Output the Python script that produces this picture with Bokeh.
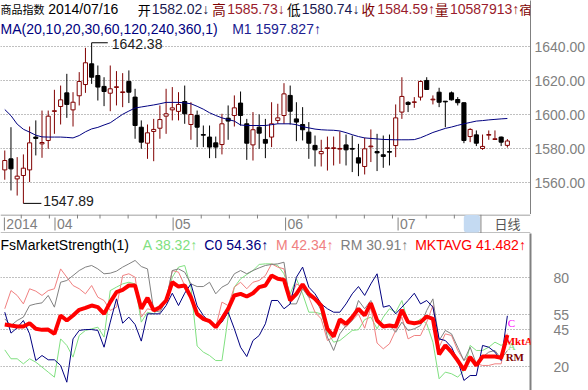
import numpy as np
from bokeh.plotting import figure
from bokeh.layouts import column
from bokeh.models import (ColumnDataSource, LinearAxis, FixedTicker, Grid, Label, Span,
                          BoxAnnotation, NumeralTickFormatter, Range1d)
from bokeh.core.properties import value
from bokeh.embed import file_html
from bokeh.resources import INLINE

# ---------------- data ----------------
open_ = [1567.6, 1574.1, 1562.3, 1564.3, 1567.6, 1586.9, 1582.9, 1584.9, 1602.0, 1604.9,
         1612.9, 1602.9, 1611.2, 1617.8, 1630.0, 1623.1, 1616.7, 1612.7, 1616.1, 1613.1,
         1619.6, 1610.4, 1592.7, 1583.3, 1590.2, 1592.1, 1599.2, 1602.9, 1602.0, 1607.8,
         1594.3, 1599.6, 1588.4, 1586.9, 1583.5, 1582.5, 1598.0, 1599.6, 1606.9, 1594.7,
         1582.3, 1592.7, 1585.5, 1586.9, 1596.7, 1599.6, 1611.4, 1597.6, 1594.3, 1589.8,
         1582.0, 1577.1, 1580.2, 1580.2, 1579.8, 1582.3, 1580.2, 1574.7, 1569.6, 1581.2,
         1578.4, 1576.5, 1578.4, 1581.9, 1601.6, 1607.3, 1607.3, 1610.4, 1620.2, 1608.8,
         1613.3, 1608.0, 1612.9, 1609.0, 1607.1, 1587.2, 1588.2, 1580.2, 1588.0, 1585.5,
         1586.9, 1582.02]
high = [1579.0, 1592.7, 1575.1, 1576.7, 1593.1, 1596.7, 1602.5, 1602.5, 1614.7, 1617.2,
        1624.1, 1613.3, 1625.1, 1639.4, 1642.38, 1629.0, 1622.1, 1629.0, 1625.7, 1624.5,
        1626.1, 1615.3, 1596.7, 1594.3, 1597.6, 1605.5, 1615.3, 1616.3, 1613.3, 1617.2,
        1607.4, 1602.5, 1593.7, 1593.7, 1587.2, 1600.6, 1605.5, 1611.4, 1613.7, 1597.6,
        1601.6, 1600.2, 1597.6, 1607.4, 1606.5, 1618.6, 1617.2, 1607.4, 1604.5, 1595.7,
        1587.8, 1585.3, 1587.2, 1587.2, 1590.2, 1588.4, 1587.8, 1582.9, 1586.5, 1591.4,
        1588.8, 1587.8, 1588.4, 1606.1, 1622.1, 1608.0, 1610.4, 1620.2, 1622.1, 1611.4,
        1615.9, 1608.0, 1613.7, 1610.4, 1607.4, 1592.1, 1590.8, 1588.4, 1590.8, 1590.8,
        1587.2, 1585.73]
low = [1561.8, 1555.5, 1552.5, 1547.89, 1560.4, 1576.1, 1574.7, 1580.0, 1588.8, 1594.3,
       1598.2, 1593.1, 1605.5, 1612.9, 1618.2, 1608.4, 1605.1, 1602.1, 1605.5, 1604.5,
       1606.9, 1585.9, 1580.0, 1574.1, 1572.7, 1585.9, 1588.8, 1596.7, 1596.7, 1594.7,
       1585.3, 1581.0, 1581.0, 1574.5, 1574.5, 1576.7, 1585.3, 1593.1, 1593.7, 1573.5,
       1573.1, 1580.0, 1574.5, 1581.0, 1594.7, 1594.7, 1594.3, 1584.5, 1584.9, 1574.1,
       1569.6, 1569.6, 1567.2, 1570.2, 1571.2, 1570.2, 1566.3, 1563.9, 1564.9, 1572.2,
       1566.9, 1568.8, 1570.2, 1575.1, 1597.6, 1601.6, 1604.1, 1608.4, 1614.9, 1606.1,
       1604.5, 1592.7, 1608.4, 1605.5, 1583.3, 1583.9, 1581.6, 1579.4, 1585.3, 1585.3,
       1581.6, 1580.74]
close = [1573.1, 1568.2, 1563.9, 1568.6, 1583.5, 1586.1, 1583.7, 1599.2, 1602.4, 1608.8,
         1606.1, 1607.4, 1619.6, 1630.6, 1622.1, 1616.3, 1613.7, 1615.3, 1616.5, 1613.5,
         1613.3, 1593.7, 1583.9, 1589.4, 1591.4, 1597.2, 1600.6, 1604.1, 1606.1, 1600.6,
         1600.2, 1592.7, 1588.0, 1581.0, 1581.0, 1594.7, 1596.3, 1604.1, 1599.6, 1583.3,
         1591.2, 1589.2, 1583.3, 1594.7, 1598.2, 1612.3, 1602.1, 1595.7, 1591.2, 1583.3,
         1579.4, 1578.4, 1580.6, 1580.6, 1580.2, 1579.4, 1579.8, 1571.6, 1580.0, 1581.6,
         1577.6, 1575.5, 1578.0, 1598.2, 1610.8, 1606.1, 1607.6, 1619.6, 1614.9, 1609.2,
         1607.4, 1607.6, 1608.8, 1607.1, 1584.9, 1591.4, 1583.3, 1581.4, 1588.4, 1585.9,
         1583.9, 1584.59]
ma_m1 = [1603.1, 1599.5, 1594.5, 1591.5, 1589.8, 1588.0, 1587.0, 1586.9, 1586.9, 1586.9,
         1586.7, 1586.4, 1587.8, 1590.0, 1591.7, 1592.6, 1594.0, 1595.3, 1597.8, 1600.3,
         1602.2, 1604.0, 1604.6, 1605.2, 1605.8, 1606.5, 1607.3, 1607.3, 1607.3, 1607.0,
         1606.5, 1605.0, 1603.3, 1601.2, 1599.6, 1598.2, 1597.2, 1596.3, 1594.0, 1593.7,
         1593.7, 1593.7, 1593.7, 1594.2, 1594.7, 1594.7, 1594.7, 1594.2, 1593.0, 1592.3,
         1591.6, 1591.2, 1591.0, 1590.9, 1590.5, 1589.5, 1588.3, 1587.2, 1586.4, 1586.1,
         1585.8, 1585.5, 1585.4, 1585.3, 1585.3, 1585.3, 1585.4, 1586.5, 1588.0, 1589.6,
         1590.8, 1592.0, 1592.8, 1593.8, 1594.7, 1595.5, 1596.3, 1596.6, 1597.0, 1597.3,
         1597.6, 1597.827]
volume_last = 10587913

ms_a = [31.4, 25.4, 25.4, 22.0, 25.4, 23.1, 19.8, 16.4, 13.0, 38.8, 34.4, 26.5, 41.1, 44.5,
        45.6, 46.7, 40.0, 71.4, 73.7, 75.9, 77.0, 75.9, 50.1, 56.8, 55.7, 60.2, 64.7, 80.4,
        87.2, 88.3, 73.7, 34.0, 29.9, 27.6, 24.2, 24.2, 53.5, 73.7, 79.3, 82.2, 84.9, 89.0,
        89.4, 89.4, 88.3, 82.7, 69.2, 79.3, 69.2, 56.8, 56.8, 55.7, 43.3, 36.6, 37.7, 41.1,
        44.5, 45.0, 51.8, 53.5, 45.6, 53.5, 59.1, 56.8, 64.7, 50.1, 49.0, 52.3, 49.0, 36.6,
        11.9, 16.4, 15.3, 13.0, 17.5, 34.4, 31.0, 31.0, 33.2, 36.6, 34.4, 38.32]
ms_c0 = [56.8, 42.7, 46.3, 51.2, 42.2, 24.2, 27.6, 24.7, 24.7, 20.9, 9.6, 38.8, 44.5, 45.1,
         45.1, 44.5, 33.2, 50.1, 65.8, 49.4, 53.5, 48.5, 37.3, 55.7, 55.7, 55.7, 61.3, 69.6,
         61.3, 69.6, 75.9, 61.0, 54.6, 50.1, 47.2, 50.1, 56.8, 45.6, 33.2, 26.9, 37.7, 41.1,
         49.0, 64.7, 64.7, 59.1, 62.4, 80.4, 87.2, 73.7, 69.2, 62.4, 59.1, 56.8, 56.8, 62.4,
         69.2, 74.1, 68.1, 75.9, 82.7, 60.2, 61.3, 55.7, 60.2, 64.7, 69.6, 62.4, 64.7, 60.2,
         38.8, 37.7, 33.2, 24.2, 10.8, 14.1, 14.1, 34.4, 33.2, 29.9, 24.2, 54.36]
ms_m = [59.1, 71.4, 68.1, 62.4, 72.6, 71.0, 68.1, 71.4, 72.6, 86.0, 80.4, 74.8, 72.6, 69.2,
        74.8, 66.9, 64.7, 58.0, 60.2, 81.5, 82.7, 80.4, 53.5, 59.1, 58.0, 58.0, 64.7, 84.9,
        83.8, 74.8, 68.1, 54.6, 51.2, 50.1, 46.7, 63.6, 61.3, 73.7, 77.0, 72.6, 77.0, 78.2,
        81.5, 89.4, 87.2, 86.0, 65.8, 75.9, 73.7, 66.9, 56.8, 52.3, 37.7, 40.0, 50.1, 46.7,
        51.2, 55.7, 46.0, 60.0, 36.0, 32.1, 35.5, 44.5, 53.5, 38.8, 41.1, 41.1, 50.1, 61.3,
        33.2, 42.2, 41.1, 31.0, 24.2, 27.6, 22.0, 20.9, 20.9, 22.0, 22.0, 42.34]
ms_rm = [52.3, 47.8, 51.2, 53.5, 61.3, 62.4, 63.1, 68.1, 60.2, 77.0, 78.2, 81.5, 84.9, 87.2,
         88.3, 86.0, 82.7, 83.1, 84.5, 87.2, 89.4, 91.7, 87.6, 86.0, 58.0, 56.8, 64.7, 84.9,
         86.0, 83.8, 75.9, 74.1, 74.1, 77.0, 69.2, 73.7, 75.9, 82.7, 84.9, 82.7, 84.9, 86.7,
         88.3, 89.0, 89.4, 90.5, 62.4, 62.4, 72.6, 66.9, 65.8, 58.0, 40.0, 31.0, 42.2, 47.8,
         51.2, 64.7, 59.1, 64.7, 50.1, 47.8, 47.8, 43.3, 50.1, 44.5, 45.6, 47.8, 58.0, 65.8,
         37.7, 44.5, 42.2, 33.2, 24.2, 33.2, 22.0, 26.5, 29.9, 31.0, 25.4, 30.91]
ms_avg = [48.5, 47.8, 47.2, 47.2, 49.4, 45.6, 44.9, 45.1, 42.2, 54.6, 51.2, 54.6, 58.4, 59.7,
          61.3, 60.2, 55.7, 63.6, 70.3, 71.9, 74.8, 74.8, 59.1, 66.5, 58.0, 60.2, 64.7, 77.0,
          74.1, 74.8, 67.0, 55.7, 52.3, 50.8, 46.7, 52.3, 59.1, 68.1, 69.2, 67.4, 69.6, 73.7,
          74.8, 81.5, 79.3, 78.6, 64.7, 69.2, 75.5, 69.2, 65.8, 61.3, 45.6, 40.4, 51.9, 49.0,
          53.5, 59.1, 54.6, 62.9, 51.2, 47.2, 47.8, 47.2, 58.4, 50.1, 49.4, 50.1, 53.9, 52.3,
          28.3, 34.4, 29.9, 24.2, 17.9, 26.5, 20.9, 26.9, 26.9, 26.9, 26.0, 41.482]

price_ticks = [1560, 1580, 1600, 1620, 1640]
bottom_tick = 1540
ind_ticks = [20, 45, 55, 80]
week_ticks = [3, 8, 13, 17, 22, 27, 35, 40, 45, 54, 59, 64, 69, 75, 80]
month_ticks = [0, 9, 30, 50, 70]
month_labels = ["2014", "04", "05", "06", "07"]

# ---------------- layout helpers (reference pixel -> data units) ----------------
W, HA, HB, HC = 588, 214, 19, 157
RB = 55
def fx(rx): return (rx - 4.3) / 6.24
def fyA(ry): return 1580 + (148.3 - ry) / 1.7
def fyB(ry): return 233 - ry
def fyC(ry): return 80 - (ry - 277.3) / 1.483

XL, XR = fx(0), fx(W - RB)
SANS = "Liberation Sans"
CJK = "Noto Sans CJK SC"
GREY = "#808080"
UP = "#800000"
NAVY = "#000080"
NUMRED = "#9A1C2C"

def base(height, xr, yr, right=RB):
    p = figure(width=W, height=height, x_range=Range1d(*xr), y_range=Range1d(*yr),
               x_axis_type=None, y_axis_type=None, toolbar_location=None,
               output_backend="svg", min_border_left=0, min_border_right=right,
               min_border_top=0, min_border_bottom=0)
    p.outline_line_color = None
    p.background_fill_color = "white"
    p.border_fill_color = "white"
    return p

def lab(p, rx, y, text, color, size="14px", font=SANS, baseline="middle", **kw):
    p.add_layout(Label(x=fx(rx), y=y, text=text, text_color=color, text_font_size=size,
                       text_font=font, text_baseline=baseline, text_align="left", **kw))

# ---------------- price panel ----------------
pA = base(HA, (XL, XR), (fyA(HA), fyA(0)))
axA = LinearAxis(ticker=FixedTicker(ticks=price_ticks), formatter=NumeralTickFormatter(format="0.00"),
                 major_tick_out=0, major_tick_in=0, minor_tick_out=0, minor_tick_in=0,
                 major_tick_line_color=None, minor_tick_line_color=None,
                 axis_line_color=GREY, major_label_text_color=GREY,
                 major_label_text_font=SANS, major_label_text_font_size="14px",
                 major_label_standoff=4)
pA.add_layout(axA, "right")
pA.add_layout(Grid(dimension=1, ticker=axA.ticker, grid_line_color=GREY, grid_line_dash="1 2"))
# lowest price level label, kept fully inside the panel just above its bottom edge
lab(pA, 535, fyA(204), f"{bottom_tick:.2f}", GREY)

o, h, l, c = map(np.array, (open_, high, low, close))
idx = np.arange(len(c))
up = c >= o
def csrc(mask):
    return ColumnDataSource(dict(x=idx[mask], top=np.maximum(o, c)[mask],
                                 bottom=np.minimum(o, c)[mask], h=h[mask], l=l[mask]))
su, sd = csrc(up), csrc(~up)
pA.segment("x", "h", "x", "l", source=su, line_color=UP, line_width=1)
pA.segment("x", "h", "x", "l", source=sd, line_color="black", line_width=1)
pA.vbar(x="x", width=0.66, top="top", bottom="bottom", source=su, fill_color="white", line_color=UP)
pA.vbar(x="x", width=0.66, top="top", bottom="bottom", source=sd, fill_color="black", line_color="black")
pA.line(idx, ma_m1, line_color=NAVY, line_width=1)

ih, il = int(np.argmax(h)), int(np.argmin(l))
pA.segment(x0=[ih], y0=[h[ih]], x1=[ih + 2.6], y1=[h[ih]], line_color="black")
pA.text(x=[ih + 3.25], y=[h[ih] - 0.9], text=[f"{h[ih]:.2f}"], text_baseline="middle",
        text_font=value(SANS), text_font_size="14px", text_color="#202020")
pA.segment(x0=[il], y0=[l[il]], x1=[il + 2.9], y1=[l[il]], line_color="black")
pA.text(x=[il + 3.2], y=[l[il] + 1.4], text=[f"{l[il]:.2f}"], text_baseline="alphabetic",
        text_font=value(SANS), text_font_size="14px", text_color="#202020")

r1, r2 = fyA(8.5), fyA(28.5)
lab(pA, 0, r1, "商品指数", "black", size="11px", font=CJK)
lab(pA, 48, r1, "2014/07/16", "black")
lab(pA, 138, r1, "开", "black", size="13px", font=CJK)
lab(pA, 152, r1, f"{o[-1]:.2f}↓", "#1A1A50")
lab(pA, 213, r1, "高", UP, size="13.5px", font=CJK)
lab(pA, 228, r1, f"{h[-1]:.2f}↓", NUMRED)
lab(pA, 288, r1, "低", "black", size="13.5px", font=CJK)
lab(pA, 303, r1, f"{l[-1]:.2f}↓", "#1A1A50")
lab(pA, 363, r1, "收", UP, size="13.5px", font=CJK)
lab(pA, 379, r1, f"{c[-1]:.2f}↑", NUMRED)
lab(pA, 437, r1, "量", UP, size="13.5px", font=CJK)
lab(pA, 452, r1, f"{volume_last}↑", NUMRED)
lab(pA, 522, r1, "宿", UP, size="12px", font=CJK)
lab(pA, 538, r1, "金魔方", "black", size="13.5px", font=CJK)
lab(pA, 0, r2, "MA(20,10,20,30,60,120,240,360,1)", NAVY)
lab(pA, 233, r2, f"M1  {ma_m1[-1]:.3f}↑", "#202090")
lab(pA, 534.5, c[-1], f"{c[-1]:.2f}", "#FF0000", background_fill_color="#E8F5E8")

# ---------------- time band ----------------
pB = base(HB, (XL, fx(W)), (0, 19), right=0)
pB.add_layout(Span(location=18.5, dimension="width", line_color=GREY, line_width=1))
pB.add_layout(Span(location=0.5, dimension="width", line_color=GREY, line_width=1))
pB.add_layout(BoxAnnotation(left=fx(514), right=fx(532), bottom=fyB(232), top=fyB(214.5),
                            fill_color="#C4DAF2", fill_alpha=1, line_color=None, border_radius=3))
pB.add_layout(Span(location=fx(533), dimension="height", line_color=GREY, line_width=1))
pB.segment(x0=week_ticks, y0=[19] * len(week_ticks), x1=week_ticks, y1=[15] * len(week_ticks),
           line_color=GREY)
pB.segment(x0=month_ticks, y0=[16] * len(month_ticks), x1=month_ticks, y1=[3] * len(month_ticks),
           line_color=GREY)
pB.text(x=[m + 0.35 for m in month_ticks], y=[fyB(223.5)] * len(month_ticks), text=month_labels,
        text_baseline="middle", text_font=value(SANS), text_font_size="14px", text_color=GREY)
lab(pB, 548, fyB(223), "日线", "#555555", size="13px", font=CJK)

# ---------------- indicator panel ----------------
pC = base(HC, (XL, XR), (fyC(390), fyC(233)))
axC = LinearAxis(ticker=FixedTicker(ticks=ind_ticks),
                 major_tick_out=0, major_tick_in=0, minor_tick_out=0, minor_tick_in=0,
                 major_tick_line_color=None, minor_tick_line_color=None,
                 axis_line_color=GREY, axis_line_width=2, major_label_text_color=GREY,
                 major_label_text_font=SANS, major_label_text_font_size="14px",
                 major_label_standoff=23)
pC.add_layout(axC, "right")
pC.add_layout(Grid(dimension=1, ticker=axC.ticker, grid_line_color=GREY, grid_line_dash="1 2"))

pC.line(idx, ms_a, line_color="#80E080", line_width=1)
pC.line(idx, ms_m, line_color="#F08080", line_width=1)
pC.line(idx, ms_rm, line_color=GREY, line_width=1)
pC.line(idx, ms_c0, line_color=NAVY, line_width=1)
pC.line(idx, ms_avg, line_color="#FF0000", line_width=4)

t = fyC(244.5)
lab(pC, 0, t, "FsMarketStrength(1)", "black")
lab(pC, 143, t, f"A {ms_a[-1]:.2f}↑", "#80E080")
lab(pC, 205, t, f"C0 {ms_c0[-1]:.2f}↑", NAVY)
lab(pC, 277, t, f"M {ms_m[-1]:.2f}↑", "#F08080")
lab(pC, 342, t, f"RM {ms_rm[-1]:.2f}↑", GREY)
lab(pC, 417, t, f"MKTAVG {ms_avg[-1]:.3f}↑", "#FF0000")

SERIF = "Liberation Serif"
lab(pC, 510, ms_c0[-1] - 0.6, "C", "#FF00FF", size="11px", font=SERIF, baseline="top")
lab(pC, 510, ms_a[-1], "A", "#80E080", size="11px", font=SERIF, baseline="top")
lab(pC, 507, ms_avg[-1], "MktA", "#FF0000", size="11px", font=SERIF, baseline="top",
    text_font_style="bold")
lab(pC, 508, ms_rm[-1], "RM", "#800000", size="11px", font=SERIF, baseline="top",
    text_font_style="bold")

layout = column(pA, pB, pC, spacing=0)
open("out.html", "w").write(file_html(layout, INLINE))
